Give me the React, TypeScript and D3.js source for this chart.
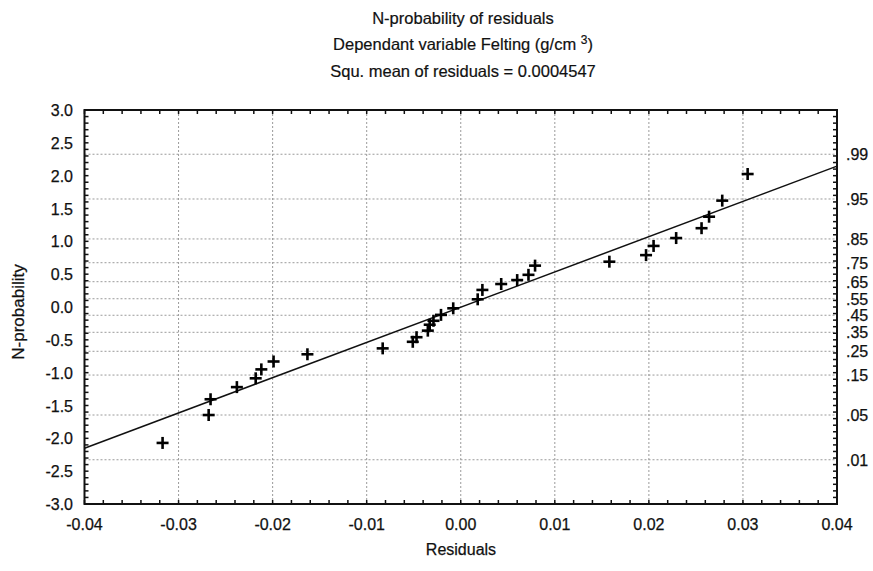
import React from "react";
import * as d3 from "d3";

const residuals = [
  -0.0317, -0.0268, -0.0266, -0.0238, -0.0218, -0.0212, -0.0199, -0.0163,
  -0.0083, -0.0051, -0.0047, -0.0035, -0.0033, -0.0029, -0.0021, -0.0008,
  0.0018, 0.0023, 0.0043, 0.006, 0.0072, 0.0079, 0.0158, 0.0197, 0.0205,
  0.0229, 0.0256, 0.0264, 0.0278, 0.0305,
];
const nProb = [
  -2.07, -1.645, -1.405, -1.22, -1.086, -0.95, -0.83, -0.72, -0.63, -0.53,
  -0.46, -0.36, -0.27, -0.21, -0.12, -0.02, 0.117, 0.26, 0.35, 0.41, 0.49,
  0.63, 0.69, 0.79, 0.93, 1.05, 1.2, 1.375, 1.62, 2.025,
];
const fitX = [-0.04, 0.04];
const fitY = [-2.15, 2.145];
const xTicks = [-0.04, -0.03, -0.02, -0.01, 0.0, 0.01, 0.02, 0.03, 0.04];
const yTicks = [3.0, 2.5, 2.0, 1.5, 1.0, 0.5, 0.0, -0.5, -1.0, -1.5, -2.0, -2.5, -3.0];
const probTicks = [0.01, 0.05, 0.15, 0.25, 0.35, 0.45, 0.55, 0.65, 0.75, 0.85, 0.95, 0.99];
const titleLines = ["N-probability of residuals", "Squ. mean of residuals = 0.0004547"];

// inverse standard normal CDF (Acklam)
function invNorm(p: number): number {
  const a = [-3.969683028665376e1, 2.209460984245205e2, -2.759285104469687e2, 1.38357751867269e2, -3.066479806614716e1, 2.506628277459239];
  const b = [-5.447609879822406e1, 1.615858368580409e2, -1.556989798598866e2, 6.680131188771972e1, -1.328068155288572e1];
  const c = [-7.784894002430293e-3, -3.223964580411365e-1, -2.400758277161838, -2.549732539343734, 4.374664141464968, 2.938163982698783];
  const d = [7.784695709041462e-3, 3.224671290700398e-1, 2.445134137142996, 3.754408661907416];
  const pl = 0.02425;
  if (p < pl) {
    const q = Math.sqrt(-2 * Math.log(p));
    return (((((c[0] * q + c[1]) * q + c[2]) * q + c[3]) * q + c[4]) * q + c[5]) / ((((d[0] * q + d[1]) * q + d[2]) * q + d[3]) * q + 1);
  }
  if (p > 1 - pl) {
    const q = Math.sqrt(-2 * Math.log(1 - p));
    return -(((((c[0] * q + c[1]) * q + c[2]) * q + c[3]) * q + c[4]) * q + c[5]) / ((((d[0] * q + d[1]) * q + d[2]) * q + d[3]) * q + 1);
  }
  const q = p - 0.5;
  const r = q * q;
  return ((((((a[0] * r + a[1]) * r + a[2]) * r + a[3]) * r + a[4]) * r + a[5]) * q) / (((((b[0] * r + b[1]) * r + b[2]) * r + b[3]) * r + b[4]) * r + 1);
}

const W = 873, H = 571;
const L = 84.5, R = 837, T = 110, B = 504;
const FONT = "'Liberation Sans', Arial, sans-serif";
const hy = (s: string) => s.replace(/\u2212/g, "-");

export default function App() {
  const x = d3.scaleLinear().domain([-0.04, 0.04]).range([L, R]);
  const y = d3.scaleLinear().domain([-3, 3]).range([B, T]);
  const xMinor = d3.range(-0.04, 0.04001, 0.002);
  const yMinor = d3.range(-3, 3.0001, 0.1);
  const line = d3.line<number>().x((v) => x(v)).y((_, i) => y(fitY[i]));
  const grid = "#9a9a9a";
  return (
    <svg width={W} height={H} style={{ position: "absolute", left: 0, top: 0, background: "#fff" }} fontFamily={FONT}>
      <rect x={0} y={0} width={W} height={H} fill="#fff" />
      {/* titles */}
      <g fill="#111" fontSize={16.5} textAnchor="middle" stroke="#111" strokeWidth={0.2}>
        <text x={463} y={24}>{titleLines[0]}</text>
        <text x={463} y={50}>
          Dependant variable Felting (g/cm <tspan fontSize={12} dy={-6}>3</tspan>
          <tspan dy={6}>)</tspan>
        </text>
        <text x={463} y={77}>{titleLines[1]}</text>
      </g>
      {/* grid */}
      <g stroke={grid} strokeWidth={1} strokeDasharray="2,2">
        {xTicks.slice(1, -1).map((t) => (
          <line key={"gx" + t} x1={x(t)} x2={x(t)} y1={T} y2={B} />
        ))}
        {probTicks.map((p) => (
          <line key={"gy" + p} x1={L} x2={R} y1={y(invNorm(p))} y2={y(invNorm(p))} />
        ))}
      </g>
      {/* minor ticks */}
      <g stroke="#111" strokeWidth={1.5}>
        {xMinor.map((t, i) => (
          <g key={"xm" + i}>
            <line x1={x(t)} x2={x(t)} y1={B} y2={B - 4} />
            <line x1={x(t)} x2={x(t)} y1={T} y2={T + 4} />
          </g>
        ))}
        {yMinor.map((t, i) => (
          <g key={"ym" + i}>
            <line x1={L} x2={L + 4} y1={y(t)} y2={y(t)} />
            <line x1={R} x2={R - 4} y1={y(t)} y2={y(t)} />
          </g>
        ))}
      </g>
      {/* frame */}
      <rect x={L} y={T} width={R - L} height={B - T} fill="none" stroke="#111" strokeWidth={2} />
      {/* fit line */}
      <path d={line(fitX) || ""} fill="none" stroke="#111" strokeWidth={1.5} />
      {/* points */}
      <g stroke="#000" strokeWidth={2.6}>
        {residuals.map((r, i) => (
          <g key={"p" + i} transform={`translate(${x(r)},${y(nProb[i])})`}>
            <line x1={-6} x2={6} y1={0} y2={0} />
            <line x1={0} x2={0} y1={-6} y2={6} />
          </g>
        ))}
      </g>
      {/* axis labels */}
      <g fill="#111" fontSize={16} stroke="#111" strokeWidth={0.25}>
        {yTicks.map((t) => (
          <text key={"yl" + t} x={73} y={y(t) + 6} textAnchor="end">
            {hy(d3.format(".1f")(t))}
          </text>
        ))}
        {xTicks.map((t) => (
          <text key={"xl" + t} x={x(t)} y={B + 26} textAnchor="middle">
            {hy(d3.format(".2f")(t))}
          </text>
        ))}
        {probTicks.map((p) => (
          <text key={"pl" + p} x={846} y={y(invNorm(p)) + 6} textAnchor="start">
            {d3.format(".2f")(p).replace(/^0/, "")}
          </text>
        ))}
        <text x={461} y={555} textAnchor="middle">Residuals</text>
        <text transform={`translate(24,${312}) rotate(-90)`} fontSize={17} textAnchor="middle">N-probability</text>
      </g>
    </svg>
  );
}
